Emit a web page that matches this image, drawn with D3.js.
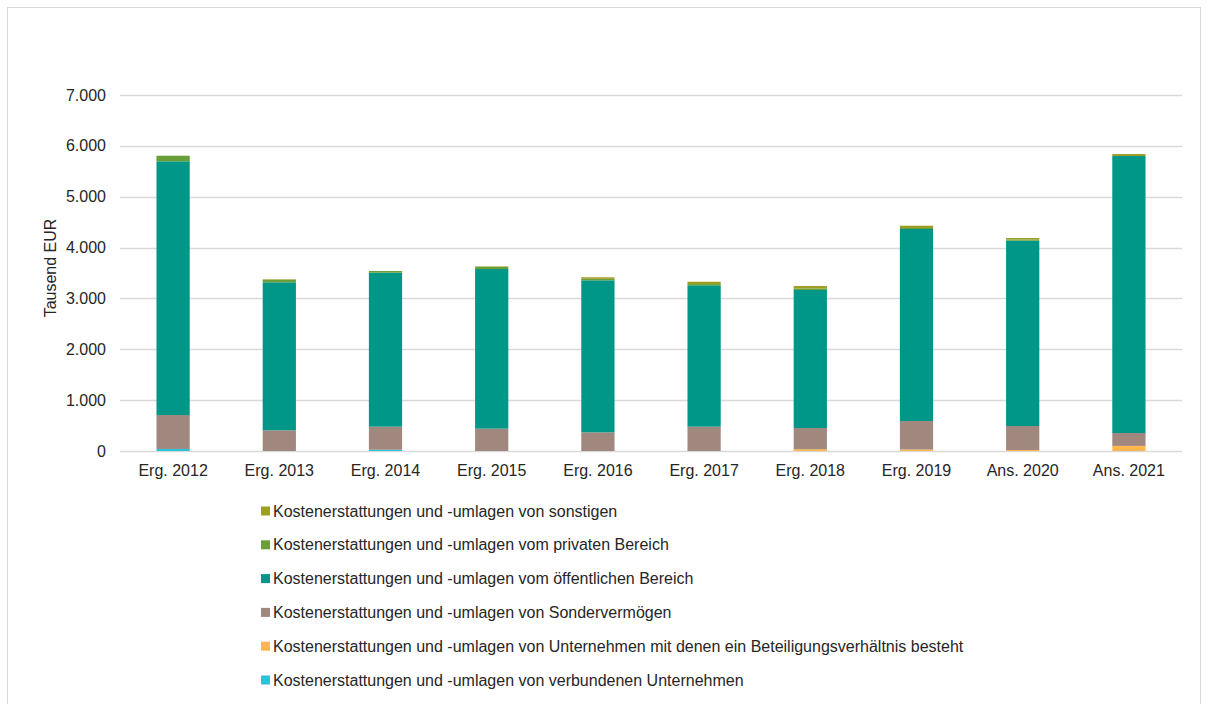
<!DOCTYPE html>
<html>
<head>
<meta charset="utf-8">
<script src="https://cdn.jsdelivr.net/npm/d3@7"></script>
<style>
  body { margin: 0; background: #fff; }
  svg text { font-family: "Liberation Sans", Arial, sans-serif; fill: #262626; }
</style>
</head>
<body>
<div id="chart"></div>
<script>
var width = 1209,
  height = 704;

var years = ['Erg. 2012', 'Erg. 2013', 'Erg. 2014', 'Erg. 2015', 'Erg. 2016',
  'Erg. 2017', 'Erg. 2018', 'Erg. 2019', 'Ans. 2020', 'Ans. 2021'];

// values in Tausend EUR (bottom to top of the stack)
var verbundene = [40, 0, 25, 0, 0, 0, 0, 0, 0, 0];
var beteiligung = [0, 0, 0, 0, 0, 0, 35, 30, 20, 100];
var sonderverm = [668, 407, 453, 439, 367, 478, 417, 560, 471, 254];
var oeffentlich = [4988, 2910, 3028, 3139, 2989, 2780, 2714, 3775, 3644, 5446];
var privat = [110, 50, 33, 45, 30, 25, 30, 20, 25, 0];
var sonstige = [0, 10, 0, 8, 30, 45, 48, 45, 28, 39];

var yTicks = [0, 1000, 2000, 3000, 4000, 5000, 6000, 7000];

var seriesInfo = [
  { key: 'verbundene', label: 'Kostenerstattungen und -umlagen von verbundenen Unternehmen', values: verbundene, color: '#26c6da' },
  { key: 'beteiligung', label: 'Kostenerstattungen und -umlagen von Unternehmen mit denen ein Beteiligungsverhältnis besteht', values: beteiligung, color: '#ffb74d' },
  { key: 'sonderverm', label: 'Kostenerstattungen und -umlagen von Sondervermögen', values: sonderverm, color: '#a1887f' },
  { key: 'oeffentlich', label: 'Kostenerstattungen und -umlagen vom öffentlichen Bereich', values: oeffentlich, color: '#009688' },
  { key: 'privat', label: 'Kostenerstattungen und -umlagen vom privaten Bereich', values: privat, color: '#689f38' },
  { key: 'sonstige', label: 'Kostenerstattungen und -umlagen von sonstigen', values: sonstige, color: '#9e9d24' }
];

// build rows for d3.stack
var rows = years.map(function (y, i) {
  var row = { year: y };
  seriesInfo.forEach(function (s) { row[s.key] = s.values[i]; });
  return row;
});

var stack = d3.stack().keys(seriesInfo.map(function (s) { return s.key; }));
var series = stack(rows);

var plot = { left: 120, right: 1182, top: 95, bottom: 451 };

var xScale = d3.scaleBand()
  .domain(years)
  .range([plot.left, plot.right])
  .paddingInner(0.687)
  .paddingOuter(0.3435);

var yScale = d3.scaleLinear()
  .domain([0, 7000])
  .range([plot.bottom, plot.top]);

var svg = d3.select('#chart')
  .append('svg')
  .attr('width', width)
  .attr('height', height);

// outer frame
svg.append('rect')
  .attr('x', 7.5)
  .attr('y', 7.5)
  .attr('width', 1193)
  .attr('height', 710)
  .attr('fill', 'none')
  .attr('stroke', '#d9d9d9');

// gridlines
svg.append('g')
  .selectAll('line')
  .data(yTicks)
  .enter()
  .append('line')
  .attr('x1', plot.left)
  .attr('x2', plot.right)
  .attr('y1', function (d) { return Math.round(yScale(d)) + 0.5; })
  .attr('y2', function (d) { return Math.round(yScale(d)) + 0.5; })
  .attr('stroke', '#d9d9d9')
  .attr('stroke-width', 1.3);

// y tick labels
var fmt = d3.formatLocale({ decimal: ',', thousands: '.', grouping: [3], currency: ['', '€'] }).format(',');
svg.append('g')
  .selectAll('text')
  .data(yTicks)
  .enter()
  .append('text')
  .attr('x', plot.left - 14)
  .attr('y', function (d) { return yScale(d); })
  .attr('dy', '0.35em')
  .attr('text-anchor', 'end')
  .style('font-size', '16px')
  .text(function (d) { return fmt(d); });

// y axis title
svg.append('text')
  .attr('transform', 'translate(56,268) rotate(-90)')
  .attr('text-anchor', 'middle')
  .style('font-size', '16px')
  .text('Tausend EUR');

// bars
svg.append('g')
  .selectAll('g')
  .data(series)
  .enter()
  .append('g')
  .attr('fill', function (d, i) { return seriesInfo[i].color; })
  .selectAll('rect')
  .data(function (d) { return d; })
  .enter()
  .append('rect')
  .attr('x', function (d) { return xScale(d.data.year); })
  .attr('width', xScale.bandwidth())
  .attr('y', function (d) { return yScale(d[1]); })
  .attr('height', function (d) { return yScale(d[0]) - yScale(d[1]); });

// x labels
svg.append('g')
  .selectAll('text')
  .data(years)
  .enter()
  .append('text')
  .attr('x', function (d) { return xScale(d) + xScale.bandwidth() / 2; })
  .attr('y', 476)
  .attr('text-anchor', 'middle')
  .style('font-size', '16px')
  .text(function (d) { return d; });

// legend (top to bottom is reverse stack order)
var legendData = seriesInfo.slice().reverse();
var legend = svg.append('g')
  .selectAll('g')
  .data(legendData)
  .enter()
  .append('g')
  .attr('transform', function (d, i) { return 'translate(261,' + (511 + i * 33.8) + ')'; });

legend.append('rect')
  .attr('x', 0)
  .attr('y', -4.5)
  .attr('width', 9)
  .attr('height', 9)
  .attr('fill', function (d) { return d.color; });

legend.append('text')
  .attr('x', 12)
  .attr('dy', '0.35em')
  .style('font-size', '16px')
  .text(function (d) { return d.label; });
</script>
</body>
</html>
